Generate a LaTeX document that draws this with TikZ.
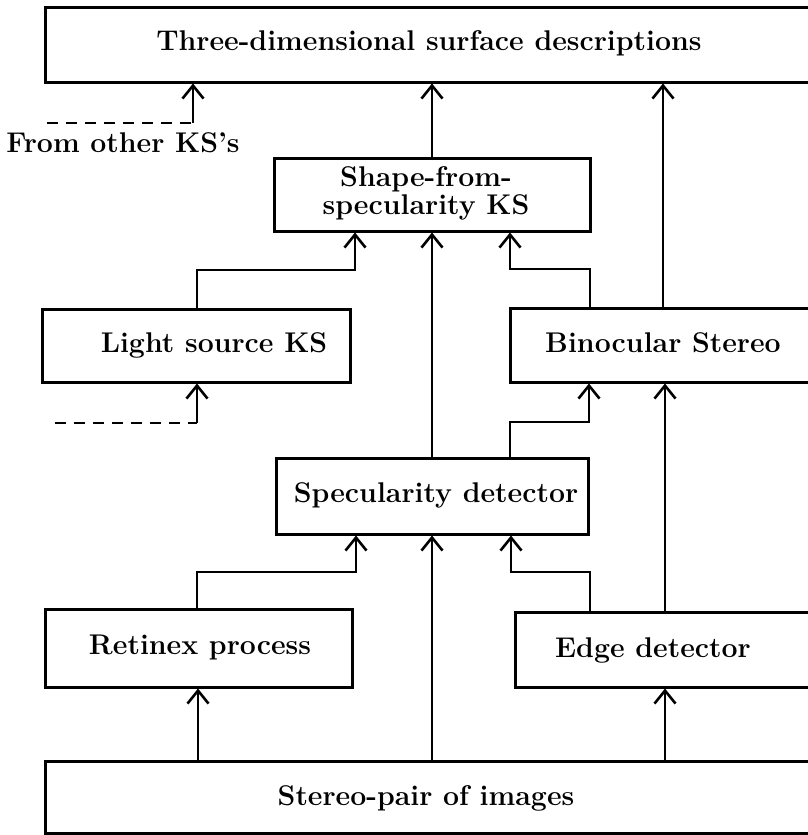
\documentclass[tikz,border=0pt]{standalone}
\usetikzlibrary{arrows.meta}
\begin{document}
\begin{tikzpicture}[x=1pt,y=-1pt,
  box/.style={draw,line width=3pt,inner sep=0pt,rectangle},
  lbl/.style={font=\fontsize{28.5}{28}\selectfont\bfseries,inner sep=0pt,align=center},
  arr/.style={line width=2.8pt,-{Straight Barb[length=13pt,width=21pt,line width=2.6pt]}},
  dashline/.style={line width=2.8pt,dash pattern=on 11pt off 8pt}]
\useasboundingbox (0,0) rectangle (808,835);
\clip (0,0) rectangle (808,835);
% boxes
\node[box,minimum width=785pt,minimum height=75pt] (top) at (437.5,44.5) {};
\node[box,minimum width=316pt,minimum height=73pt] (shape) at (432,194.5) {};
\node[box,minimum width=308pt,minimum height=73pt] (light) at (196,345.5) {};
\node[box,minimum width=320pt,minimum height=74pt] (bino) at (670,345) {};
\node[box,minimum width=312pt,minimum height=76pt] (spec) at (432,496) {};
\node[box,minimum width=307pt,minimum height=78pt] (retinex) at (198.5,648) {};
\node[box,minimum width=315pt,minimum height=75pt] (edge) at (672.5,649.5) {};
\node[box,minimum width=785pt,minimum height=72pt] (stereo) at (437.5,797) {};
% texts
\node[lbl] (toptext) at (429,43) {Three-dimensional surface descriptions};
\node[lbl] (fromtext) at (123,143) {From other KS's};
\node[lbl] (shapetext) at (426,193) {Shape-from-\\specularity KS};
\node[lbl] (lighttext) at (214,345) {Light source KS};
\node[lbl] (binotext) at (663,343) {Binocular Stereo};
\node[lbl] (spectext) at (436,495) {Specularity detector};
\node[lbl] (retinextext) at (200,647) {Retinex process};
\node[lbl] (edgetext) at (653,650) {Edge detector};
\node[lbl] (stereotext) at (426,798) {Stereo-pair of images};
% dashed inputs
\coordinate (fo) at (47,123);
\coordinate (focorner) at (193,123);
\draw[dashline] (fo) -- (focorner);
\draw[arr] (focorner) -- (top.south -| focorner);
\coordinate (ls) at (55,423);
\coordinate (lscorner) at (197,423);
\draw[dashline] (ls) -- (lscorner);
\draw[arr] (lscorner) -- (light.south -| lscorner);
% connectors to top
\draw[arr] (shape.north) -- (top.south -| shape.north);
\draw[arr] (bino.north -| 663,0) -- (top.south -| 663,0);
% into shape
\draw[arr] (light.north -| 197,0) -- (197,270) -- (355,270) -- (shape.south -| 355,0);
\draw[arr] (spec.north) -- (shape.south);
\draw[arr] (bino.north -| 590,0) -- (590,269) -- (510,269) -- (shape.south -| 510,0);
% into bino
\draw[arr] (spec.north -| 510,0) -- (510,422) -- (589,422) -- (bino.south -| 589,0);
\draw[arr] (edge.north -| 665,0) -- (bino.south -| 665,0);
% into spec
\draw[arr] (retinex.north -| 197,0) -- (197,572) -- (356,572) -- (spec.south -| 356,0);
\draw[arr] (edge.north -| 590,0) -- (590,572) -- (511,572) -- (spec.south -| 511,0);
\draw[arr] (stereo.north -| 432,0) -- (spec.south);
% from stereo
\draw[arr] (stereo.north -| 198,0) -- (retinex.south -| 198,0);
\draw[arr] (stereo.north -| 665,0) -- (edge.south -| 665,0);
\end{tikzpicture}
\end{document}
